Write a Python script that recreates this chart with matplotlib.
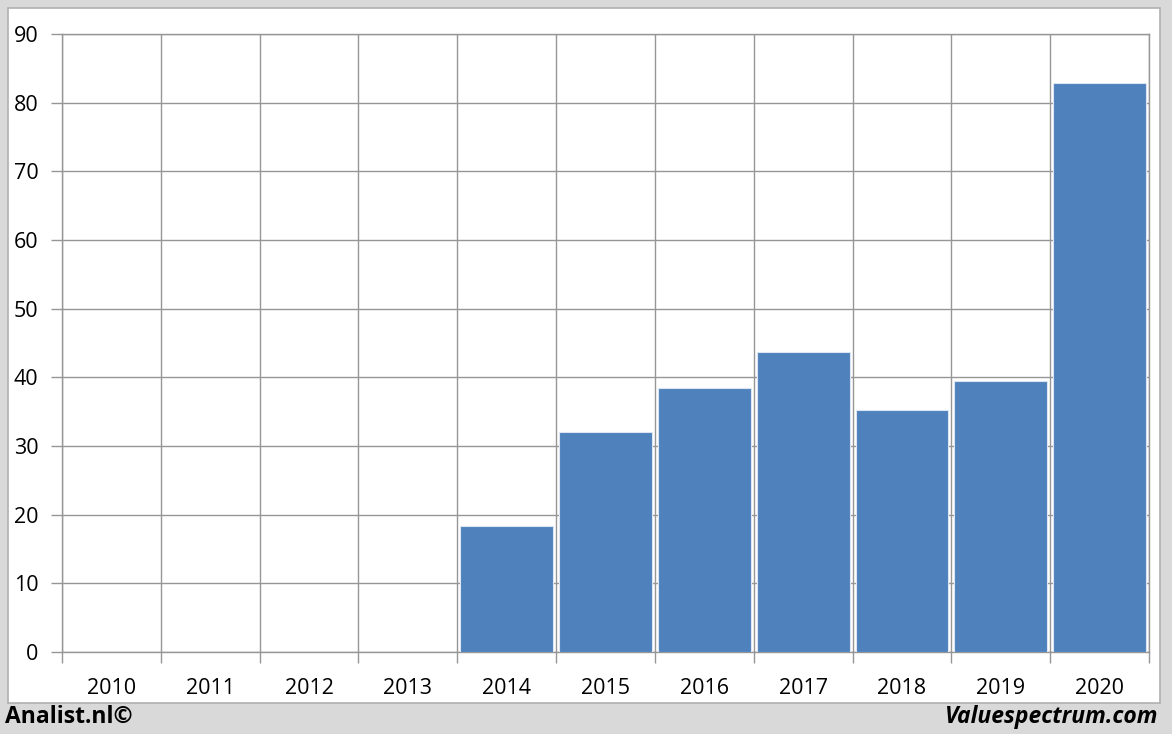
import numpy as np
import matplotlib.pyplot as plt
from matplotlib.patches import Rectangle

years = ['2010', '2011', '2012', '2013', '2014', '2015', '2016', '2017', '2018', '2019', '2020']
values = [0, 0, 0, 0, 18.3, 32.1, 38.5, 43.7, 35.3, 39.4, 82.8]
yticks = [0, 10, 20, 30, 40, 50, 60, 70, 80, 90]

plt.rcParams['font.family'] = ['Open Sans', 'DejaVu Sans']

W, H = 1172, 734
fig = plt.figure(figsize=(W / 100, H / 100), dpi=100)
fig.patch.set_facecolor('#d9d9d9')

# white panel with grey outline, behind the axes
fig.patches.append(Rectangle((8 / W, 1 - 703 / H), (1160 - 8) / W, (703 - 8) / H,
                             transform=fig.transFigure, facecolor='white',
                             edgecolor='#b0b0b0', linewidth=1.2, zorder=-10))

ax = fig.add_axes([62 / W, 1 - 652 / H, (1149 - 62) / W, (652 - 34) / H])
ax.set_facecolor('white')

x = np.arange(len(years))
ax.bar(x, values, width=0.94, color='#4f81bd', edgecolor='#dce6f2', linewidth=0.8, zorder=3)

ax.set_xlim(-0.5, len(years) - 0.5)
ax.set_ylim(0, 90)
ax.set_yticks(yticks)
ax.set_yticklabels([str(v) for v in yticks], fontsize=15.5)

# gridlines at category boundaries
bounds = np.arange(len(years) + 1) - 0.5
ax.set_xticks(bounds)
ax.set_xticklabels([])
ax.set_xticks(x, minor=True)
ax.set_xticklabels(years, minor=True, fontsize=15.5)
ax.tick_params(axis='x', which='minor', length=0, pad=19)
ax.tick_params(axis='x', which='major', length=8, color='#969696', width=1)
ax.tick_params(axis='y', length=8, color='#969696', width=1, pad=9)

ax.grid(True, which='major', color='#969696', linewidth=1, zorder=0)
ax.set_axisbelow(True)
for s in ax.spines.values():
    s.set_color('#969696')
    s.set_linewidth(1)

fig.text(5 / W, 1 - 717 / H, 'Analist.nl©', fontsize=16.5, fontweight='bold',
         ha='left', va='center', color='black')
fig.text(1158 / W, 1 - 717 / H, 'Valuespectrum.com', fontsize=16.5, fontweight='bold',
         style='italic', ha='right', va='center', color='black')

fig.savefig('out.png', dpi=100, facecolor=fig.get_facecolor())
